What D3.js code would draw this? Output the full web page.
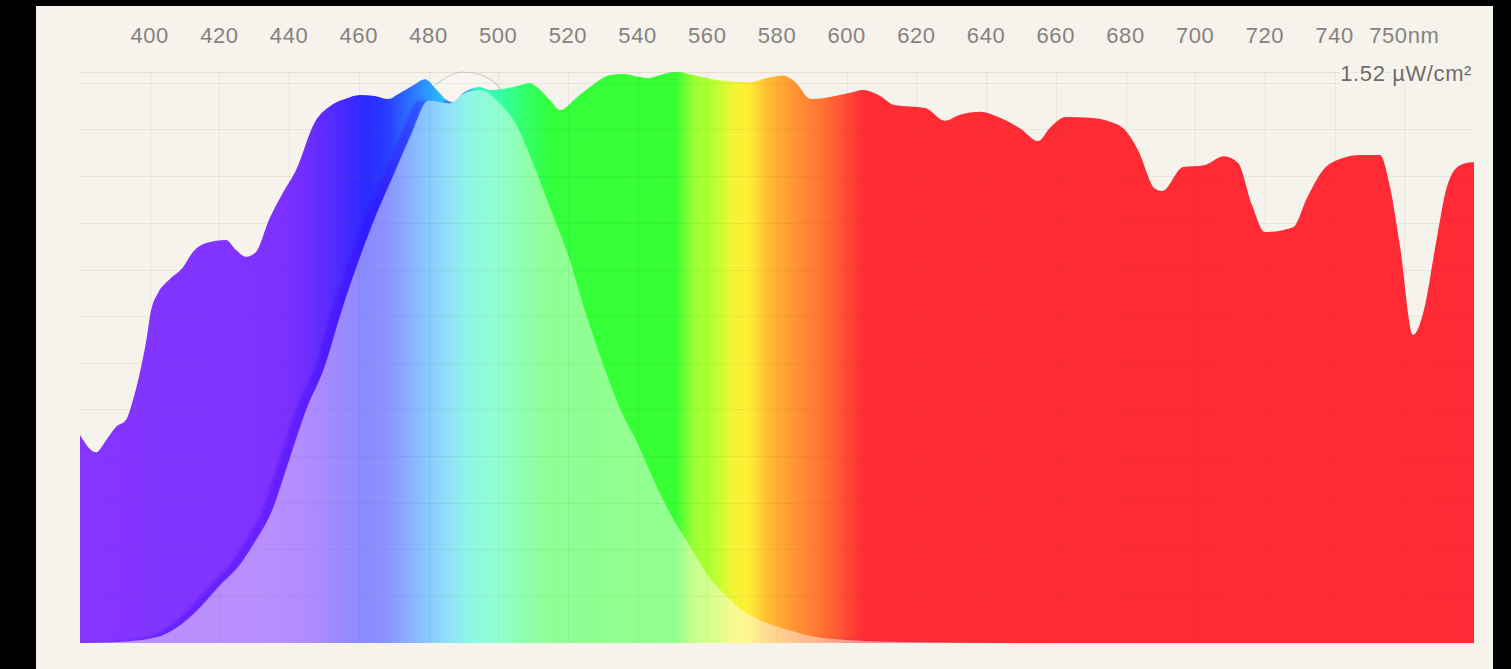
<!DOCTYPE html>
<html>
<head>
<meta charset="utf-8">
<script src="https://cdn.jsdelivr.net/npm/d3@7"></script>
<style>
    html, body { margin: 0; padding: 0; background: #000; }
    svg { display: block; }
    .tick-label { font-family: "Liberation Sans", Arial, sans-serif; font-size: 22px; letter-spacing: 0.6px; fill: #858380; }
    .peak-label { font-family: "Liberation Sans", Arial, sans-serif; font-size: 22px; letter-spacing: 0.6px; fill: #6f6d6a; }
</style>
</head>
<body>
<div id="chart"></div>
<script>
"use strict";

// measured spectrum, nm -> µW/cm²
var wavelengths = [380, 384.6, 387.5, 390.3, 393.2, 395.2, 396.9, 398.9, 400.4, 402.4, 405.5, 409.6, 412.4, 416.2,
    421.9, 424.8, 427.6, 430.5, 434.2, 438.2, 442.0, 447.4, 451.7, 456.0, 460.3, 464.6, 468.4, 471.8, 475.6, 479.0,
    482.4, 485.3, 487.0, 489.9, 492.8, 494.8, 497.6, 502.5, 506.3, 509.1, 511.1, 514.9, 517.7, 522.6, 526.3, 532.1,
    535.8, 540.7, 542.7, 548.4, 551.3, 555.9, 562.8, 572.3, 577.1, 581.7, 584.9, 589.8, 600.7, 604.7, 609.6, 613.6,
    622.5, 628.2, 632.5, 638.3, 644.0, 650.0, 654.9, 658.3, 662.9, 669.8, 675.8, 679.6, 683.6, 688.5, 690.5, 696.5,
    702.5, 708.3, 712.3, 716.3, 720.0, 728.1, 732.1, 736.7, 742.4, 747.3, 753.0, 755.9, 758.8, 762.5, 765.4, 769.4,
    772.2, 776.0, 779.4, 780];
var irradiance = [0.554, 0.508, 0.540, 0.575, 0.594, 0.647, 0.708, 0.799, 0.886, 0.932, 0.966, 1.001, 1.041, 1.065,
    1.073, 1.046, 1.028, 1.041, 1.126, 1.198, 1.259, 1.387, 1.429, 1.448, 1.459, 1.456, 1.448, 1.464, 1.485, 1.501,
    1.472, 1.445, 1.440, 1.464, 1.477, 1.480, 1.472, 1.477, 1.485, 1.491, 1.480, 1.445, 1.419, 1.453, 1.480, 1.512,
    1.515, 1.507, 1.504, 1.517, 1.520, 1.512, 1.499, 1.493, 1.504, 1.511, 1.496, 1.448, 1.464, 1.472, 1.456, 1.432,
    1.424, 1.390, 1.406, 1.414, 1.398, 1.368, 1.336, 1.371, 1.400, 1.398, 1.387, 1.368, 1.312, 1.209, 1.203, 1.267,
    1.272, 1.296, 1.278, 1.166, 1.094, 1.107, 1.185, 1.259, 1.291, 1.299, 1.299, 1.214, 1.054, 0.820, 0.878, 1.081,
    1.214, 1.272, 1.280, 1.280];

// melanopic-weighted part of the spectrum, µW/cm²
var melanopicWavelengths = [380, 390, 395, 400, 405, 410, 415, 420, 425, 430, 435, 440, 445, 450, 455, 460, 465,
    470, 475, 480, 483, 486, 490, 495, 500, 505, 510, 515, 520, 525, 530, 535, 540, 545, 550, 555, 560, 565, 570,
    575, 580, 585, 590, 600, 620, 650, 780];
var melanopicWeighted = [0, 0.002, 0.005, 0.011, 0.026, 0.056, 0.100, 0.152, 0.198, 0.266, 0.350, 0.486, 0.623,
    0.730, 0.882, 1.018, 1.140, 1.246, 1.353, 1.444, 1.440, 1.436, 1.462, 1.472, 1.440, 1.383, 1.277, 1.155, 1.034,
    0.882, 0.745, 0.623, 0.532, 0.426, 0.334, 0.258, 0.182, 0.129, 0.088, 0.061, 0.043, 0.030, 0.018, 0.008, 0.002,
    0, 0];

// melanopic sensitivity curve, relative to its peak
var sensitivityWavelengths = [380, 400, 420, 440, 450, 460, 470, 475, 480, 485, 490, 495, 500, 505, 510, 520, 530,
    540, 550, 560, 570, 580, 600, 620, 650, 780];
var sensitivity = [0, 0.012, 0.142, 0.395, 0.514, 0.698, 0.856, 0.914, 0.965, 0.99, 1.0, 0.995, 0.975, 0.93, 0.88,
    0.718, 0.495, 0.353, 0.22, 0.121, 0.059, 0.028, 0.005, 0.001, 0, 0];

var tickValues = [400, 420, 440, 460, 480, 500, 520, 540, 560, 580, 600, 620, 640, 660, 680, 700, 720, 740, 760];
var tickLabels = ["400", "420", "440", "460", "480", "500", "520", "540", "560", "580", "600", "620", "640",
    "660", "680", "700", "720", "740", "750nm"];
var gridValues = [0.124, 0.249, 0.373, 0.497, 0.622, 0.746, 0.870, 0.994, 1.119, 1.243, 1.367, 1.492];
var peakIrradiance = 1.52;
var peakLabel = "1.52 µW/cm²";

var spectrumColors = [
    [380, "#8436ff"], [430, "#8033ff"], [440, "#7a30ff"], [447, "#6a2cff"], [455, "#4a2aff"], [462, "#2a2aff"],
    [468, "#2a3cff"], [474, "#2a6cff"], [480, "#2a9cff"], [486, "#33ccf0"], [492, "#33eed0"], [500, "#33ffaa"],
    [508, "#33ff66"], [515, "#33ff3c"], [551, "#38ff33"], [556, "#99ff33"], [562, "#b8ff33"], [567, "#eef633"],
    [572, "#ffee33"], [577, "#ffc033"], [584, "#ff9933"], [592, "#ff7733"], [598, "#ff5533"], [605, "#ff2c33"],
    [780, "#ff2a35"]
];

var renderSpectrum = {
    gradient: function (defs, id, x, lighten) {
        var lo = x.domain()[0], hi = x.domain()[1];
        var grad = defs.append("linearGradient")
            .attr("id", id)
            .attr("gradientUnits", "userSpaceOnUse")
            .attr("x1", x(lo)).attr("x2", x(hi))
            .attr("y1", 0).attr("y2", 0);

        grad.selectAll("stop")
            .data(spectrumColors)
            .enter()
            .append("stop")
            .attr("offset", function (d) { return (d[0] - lo) / (hi - lo); })
            .attr("stop-color", function (d) { return d3.interpolateRgb(d[1], "#fff")(lighten); });
    },

    chart: function (location) {
        var W = 1511, H = 669,
            svg = d3.select(location).append("svg").attr("width", W).attr("height", H),
            defs = svg.append("defs");

        var x = d3.scaleLinear().domain([380, 780]).range([80, 1474]),
            y = d3.scaleLinear().domain([0, peakIrradiance]).range([643, 72]),
            yRel = d3.scaleLinear().domain([0, 1]).range([643, 72]);

        var pairs = function (ws, vs) {
            return ws.map(function (w, i) { return { w: w, v: vs[i] }; });
        };
        var spectrum = pairs(wavelengths, irradiance),
            weighted = pairs(melanopicWavelengths, melanopicWeighted),
            sens = pairs(sensitivityWavelengths, sensitivity);

        var area = d3.area()
            .x(function (d) { return x(d.w); })
            .y0(y(0))
            .y1(function (d) { return y(d.v); })
            .curve(d3.curveMonotoneX);

        var sensLine = d3.line()
            .x(function (d) { return x(d.w); })
            .y(function (d) { return yRel(d.v); })
            .curve(d3.curveMonotoneX);

        this.gradient(defs, "spectrum-grad", x, 0);
        this.gradient(defs, "melanopic-grad", x, 0.45);

        defs.append("clipPath").attr("id", "spectrum-clip")
            .append("path").attr("d", area(spectrum));

        var shadow = defs.append("filter").attr("id", "edge-shadow")
            .attr("x", "-5%").attr("y", "-5%").attr("width", "110%").attr("height", "110%");
        shadow.append("feDropShadow")
            .attr("dx", -10).attr("dy", 0).attr("stdDeviation", 1.5)
            .attr("flood-color", "#3a00ff").attr("flood-opacity", 0.35);

        // panel
        svg.append("rect")
            .attr("x", 36).attr("y", 6)
            .attr("width", 1457).attr("height", H - 6)
            .attr("fill", "#f6f2ec");

        // sensitivity curve, only seen where it rises above the spectrum
        svg.append("path")
            .attr("d", sensLine(sens))
            .attr("fill", "rgba(255,255,255,0.35)")
            .attr("stroke", "#d8d2cb")
            .attr("stroke-width", 1.2);

        svg.append("path")
            .attr("d", area(spectrum))
            .attr("fill", "url(#spectrum-grad)");

        svg.append("path")
            .attr("d", area(weighted))
            .attr("fill", "url(#melanopic-grad)")
            .attr("filter", "url(#edge-shadow)")
            .attr("clip-path", "url(#spectrum-clip)");

        // grid
        var grid = svg.append("g").attr("class", "grid");

        grid.selectAll("line.h")
            .data(gridValues)
            .enter()
            .append("line")
            .attr("class", "h")
            .attr("x1", x(380)).attr("x2", x(780))
            .attr("y1", function (d) { return Math.round(y(d)) + 0.5; })
            .attr("y2", function (d) { return Math.round(y(d)) + 0.5; })
            .attr("stroke", "rgba(90,70,40,0.07)");

        grid.selectAll("line.v")
            .data(tickValues)
            .enter()
            .append("line")
            .attr("class", "v")
            .attr("x1", function (d) { return Math.round(x(d)) + 0.5; })
            .attr("x2", function (d) { return Math.round(x(d)) + 0.5; })
            .attr("y1", y(peakIrradiance)).attr("y2", y(0))
            .attr("stroke", "rgba(90,70,40,0.07)");

        grid.append("line")
            .attr("x1", x(380)).attr("x2", x(780))
            .attr("y1", Math.round(y(peakIrradiance)) + 0.5)
            .attr("y2", Math.round(y(peakIrradiance)) + 0.5)
            .attr("stroke", "rgba(90,70,40,0.11)");

        svg.selectAll("text.tick-label")
            .data(tickValues)
            .enter()
            .append("text")
            .attr("class", "tick-label")
            .attr("x", function (d) { return x(d); })
            .attr("y", 43)
            .attr("text-anchor", "middle")
            .text(function (d, i) { return tickLabels[i]; });

        svg.append("text")
            .attr("class", "peak-label")
            .attr("x", 1472)
            .attr("y", 81)
            .attr("text-anchor", "end")
            .attr("stroke", "#f6f2ec")
            .attr("stroke-width", 6)
            .attr("paint-order", "stroke")
            .text(peakLabel);
    }
};

renderSpectrum.chart("#chart");
</script>
</body>
</html>
